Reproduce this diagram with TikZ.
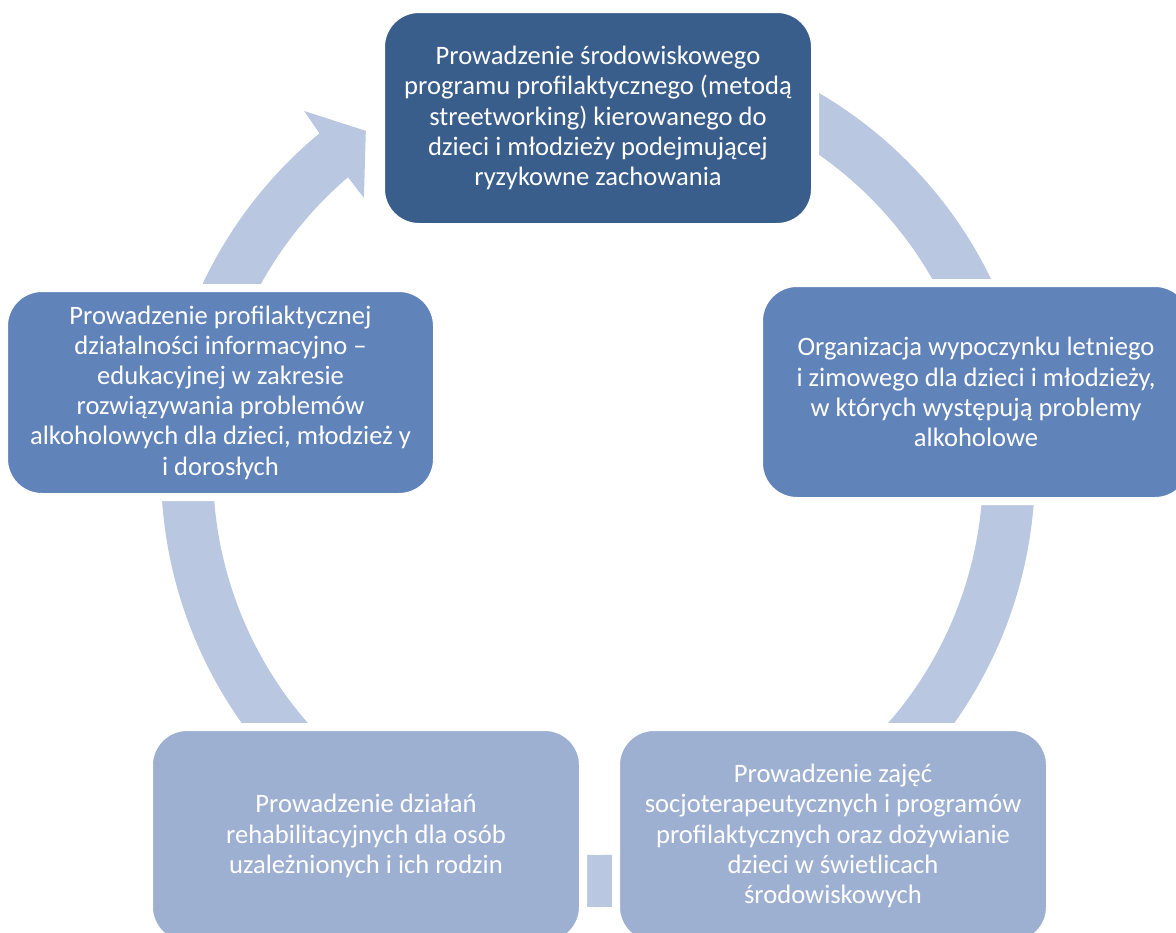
\documentclass[tikz,border=0pt]{standalone}
\usepackage{fontspec}
\setmainfont{Carlito}
\usetikzlibrary{calc}
\definecolor{boxdark}{HTML}{3A5E8C}
\definecolor{boxmid}{HTML}{6083BA}
\definecolor{boxlight}{HTML}{9DB0D2}
\definecolor{ringcol}{HTML}{B9C7E1}
\begin{document}
\begin{tikzpicture}[x=0.5pt,y=0.5pt,
    stage/.style={rectangle,rounded corners=19pt,draw=white,line width=4pt,text=white,align=center,
      minimum width=217pt,minimum height=109pt,inner sep=0pt,font=\fontsize{13.3}{15.1}\selectfont},
    ring/.style={fill=ringcol}]
  \path[use as bounding box,clip] (0,0) rectangle (1176,-932);
  \coordinate (c) at (598,-470);
  % the ring, with the one arrow head that shows
  \fill[ring] ($(c)+(165:437)$) arc[start angle=165,end angle=129.6,radius=437]
    -- ($(c)+(129.3:464)$) -- ($(c)+(124.4:411)$) -- ($(c)+(130.7:359)$) -- ($(c)+(130.5:385)$)
    arc[start angle=130.5,end angle=165,radius=385] -- cycle;
  \foreach \a/\b in {65/20,0/-50,-80/-100,-130/-180}
    \fill[ring] ($(c)+(\a:437)$) arc[start angle=\a,end angle=\b,radius=437]
      -- ($(c)+(\b:385)$) arc[start angle=\b,end angle=\a,radius=385] -- cycle;
  % the boxes
  \node[stage,fill=boxdark] (street) at (598,-118)
    {Prowadzenie środowiskowego\\programu profilaktycznego (metodą\\streetworking) kierowanego do\\dzieci i młodzieży podejmującej\\ryzykowne zachowania};
  \node[stage,fill=boxmid] (rest) at (976,-392)
    {Organizacja wypoczynku letniego\\i zimowego dla dzieci i młodzieży,\\w których występują problemy\\alkoholowe};
  \node[stage,fill=boxlight] (socjo) at (833,-836)
    {Prowadzenie zajęć\\socjoterapeutycznych i programów\\profilaktycznych oraz dożywianie\\dzieci w świetlicach\\środowiskowych};
  \node[stage,fill=boxlight] (rehab) at (366,-836)
    {Prowadzenie działań\\rehabilitacyjnych dla osób\\uzależnionych i ich rodzin};
  \node[stage,fill=boxmid,minimum width=216.5pt,minimum height=104.5pt] (info) at (220.5,-392.5)
    {Prowadzenie profilaktycznej\\działalności informacyjno –\\edukacyjnej w zakresie\\rozwiązywania problemów\\alkoholowych dla dzieci, młodzież y\\i dorosłych};
\end{tikzpicture}
\end{document}
